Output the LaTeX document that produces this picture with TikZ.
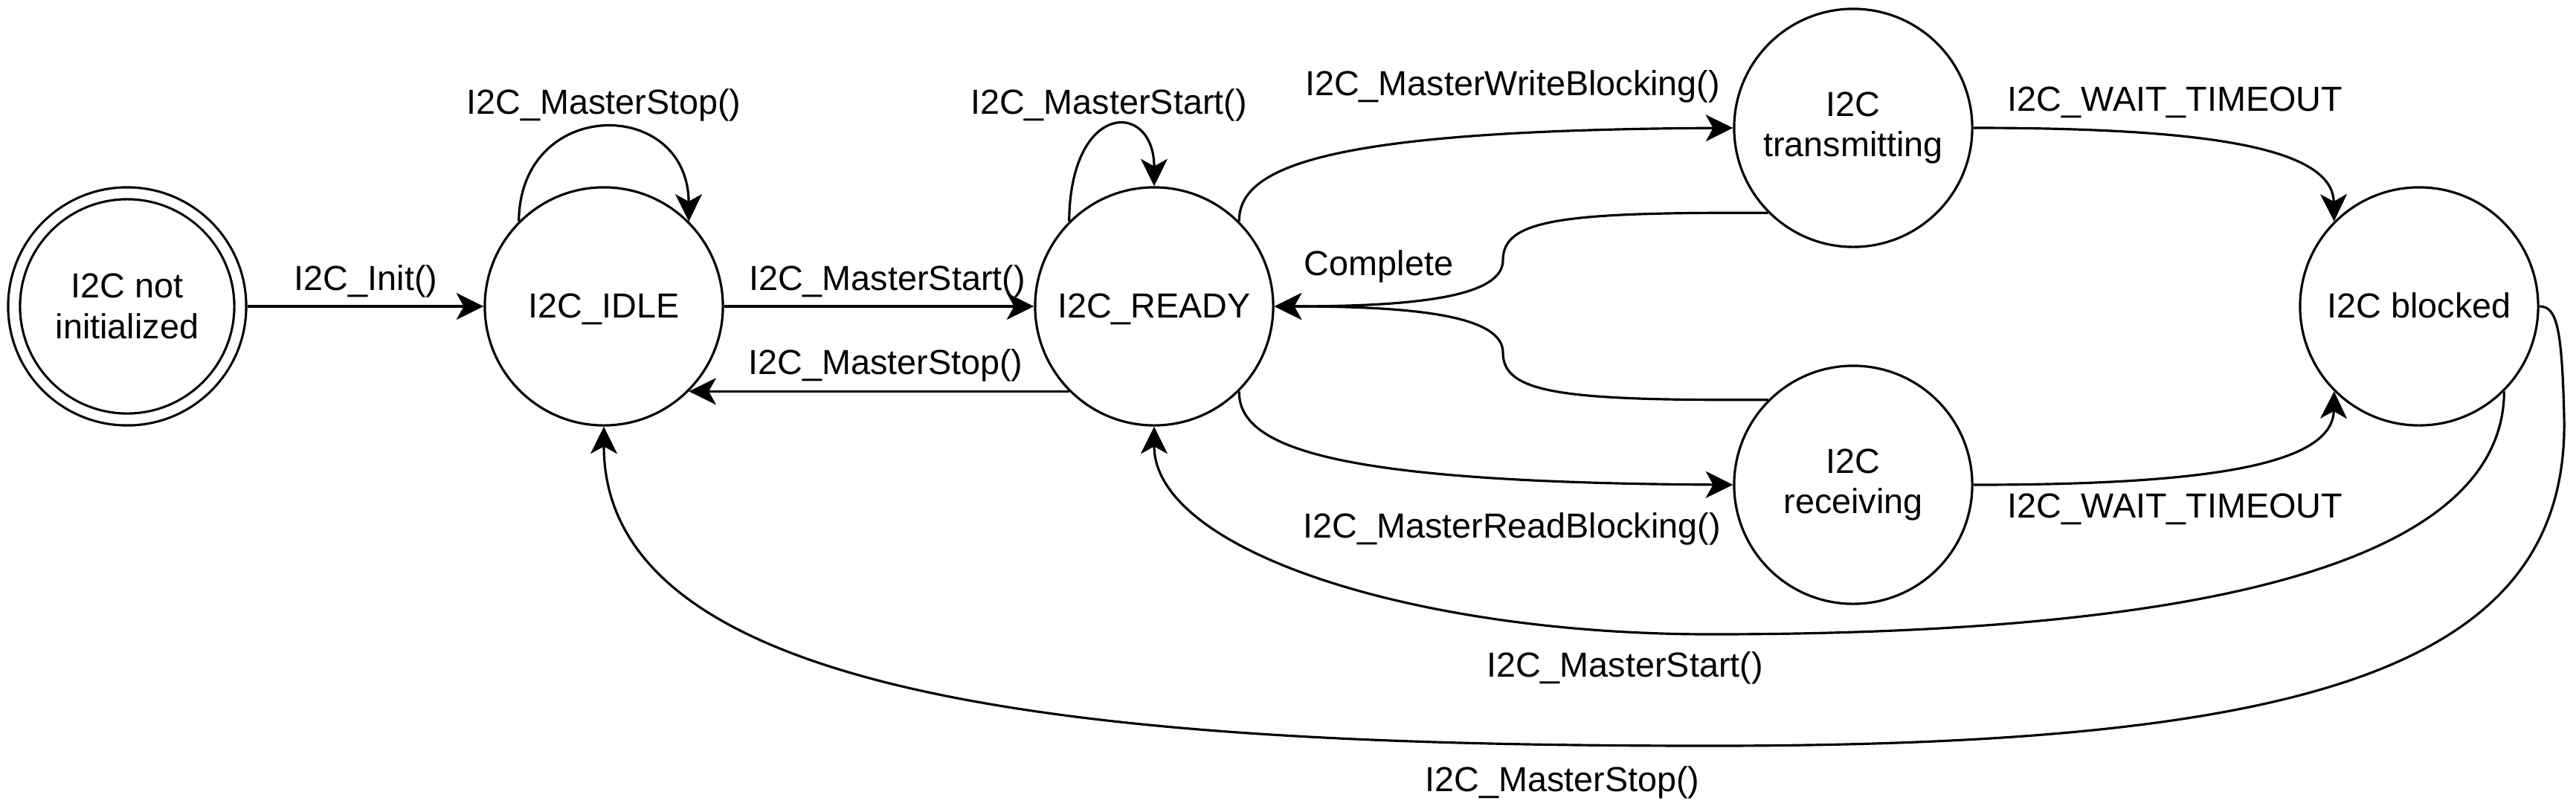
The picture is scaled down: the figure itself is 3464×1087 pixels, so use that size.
\documentclass[tikz,border=0pt]{standalone}
\usepackage{fontspec}
\setmainfont{Liberation Sans}
\usetikzlibrary{arrows.meta}
\begin{document}
\begin{tikzpicture}[x=0.01cm, y=-0.01cm,
  txt/.style={font=\fontsize{13.3pt}{15.6pt}\selectfont},
  state/.style={txt, circle, draw, line width=0.9pt, minimum size=3.2cm, inner sep=0pt, align=center},
  oneline/.style={text height=0.886em, text depth=0pt},
  lbl/.style={txt, inner sep=0pt, text height=0.72em, text depth=0.21em},
  edge/.style={line width=0.9pt, -{Stealth[length=10.4pt,width=10.2pt,inset=2.8pt]}},
  plain/.style={line width=0.9pt}]
\useasboundingbox (0,0) rectangle (3464,1087);

% states
\node[state, double, double distance=3.64pt, minimum size=3.04cm, outer sep=2.72pt] (ni) at (171,412) {I2C not\\initialized};
\node[state, oneline] (idle) at (812,412) {I2C\_IDLE};
\node[state, oneline] (ready) at (1552,412) {I2C\_READY};
\node[state] (trans) at (2492,172) {I2C\\transmitting};
\node[state] (recv) at (2492,652) {I2C\\receiving};
\node[state, oneline] (blocked) at (3253,412) {I2C blocked};

% straight edges
\draw[edge] (ni.east) -- (idle.west);
\draw[edge] (idle.east) -- (ready.west);
\draw[edge] (ready.225) -- (idle.-45);

% self loops
\draw[edge] (idle.135) .. controls (699,130) and (925,130) .. (idle.45);
\draw[edge] (ready.135) .. controls (1439,135) and (1552,135) .. (ready.north);

% READY -> transmitting / receiving
\draw[edge] (ready.45) .. controls (1665,220) and (1800,175) .. (trans.west);
\draw[edge] (ready.-45) .. controls (1665,604) and (1800,649) .. (recv.west);

% back to READY
\draw[edge] (trans.225) .. controls (2100,285) and (2021,295) .. (2021,350)
  .. controls (2021,400) and (1900,412) .. (ready.east);
\draw[edge] (recv.135) .. controls (2100,539) and (2021,529) .. (2021,474)
  .. controls (2021,424) and (1900,412) .. (ready.east);

% timeouts
\draw[edge] (trans.east) .. controls (2950,172) and (3137,195) .. (blocked.135);
\draw[edge] (recv.east) .. controls (2950,652) and (3137,629) .. (blocked.225);

% blocked -> READY
\draw[edge] (blocked.-45) .. controls (3366,800) and (2800,853) .. (2300,853)
  .. controls (1900,853) and (1552,740) .. (ready.south);

% blocked -> IDLE
\draw[edge] (blocked.east) .. controls (3438,412) and (3445,440) .. (3448,560)
  .. controls (3456,900) and (3100,1003) .. (2300,1003)
  .. controls (1500,1003) and (812,950) .. (idle.south);

% labels
\node[lbl] (l1) at (492,382) {I2C\_Init()};
\node[lbl] (l2) at (812,145) {I2C\_MasterStop()};
\node[lbl] (l3) at (1491,145) {I2C\_MasterStart()};
\node[lbl] (l4) at (1193,382) {I2C\_MasterStart()};
\node[lbl] (l5) at (1191,495) {I2C\_MasterStop()};
\node[lbl] (l6) at (2034,120) {I2C\_MasterWriteBlocking()};
\node[lbl] (l7) at (2033,715) {I2C\_MasterReadBlocking()};
\node[lbl] (l8) at (1854,362) {Complete};
\node[lbl] (l9) at (2925,141) {I2C\_WAIT\_TIMEOUT};
\node[lbl] (l10) at (2925,688) {I2C\_WAIT\_TIMEOUT};
\node[lbl] (l11) at (2185,902) {I2C\_MasterStart()};
\node[lbl] (l12) at (2101,1056) {I2C\_MasterStop()};
\end{tikzpicture}
\end{document}
